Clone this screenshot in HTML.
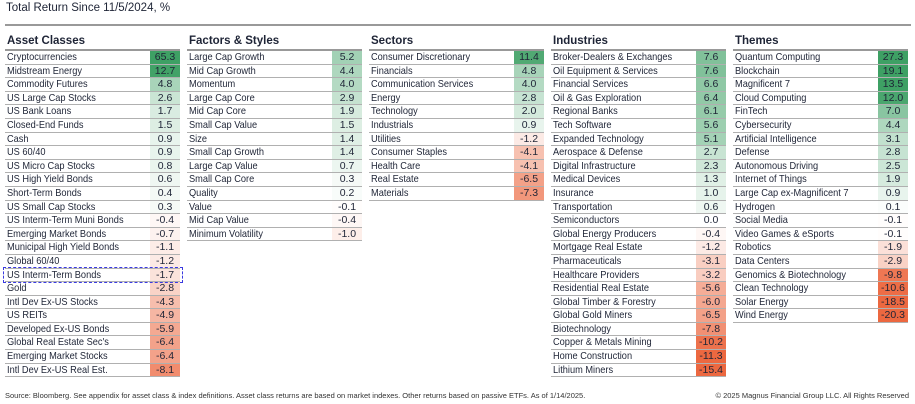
<!DOCTYPE html>
<html><head><meta charset="utf-8">
<style>
body{margin:0;width:915px;height:404px;background:#fff;font-family:"Liberation Sans",Arial,sans-serif;color:#1e2436;position:relative;overflow:hidden}
.title{position:absolute;left:6px;top:2px;font-size:11.5px}
.hr{position:absolute;left:5px;top:24px;width:906px;height:2px;background:#999}
.tb{position:absolute;top:34px;width:175px}
.h{font-weight:bold;font-size:11.5px;height:15px;line-height:15px;padding-left:2px;border-bottom:2px solid #999}
.r{position:relative;height:12.6px;border-bottom:1px solid #b0b0b0;font-size:10.5px;line-height:13px}
.r .n{position:absolute;left:2px;top:0;white-space:nowrap;transform:scaleX(.88);transform-origin:left}
.r .v{position:absolute;right:0;top:0;width:30px;height:12.6px;text-align:center}
.src{position:absolute;left:5px;top:391px;font-size:7.5px;color:#333}
.cp{position:absolute;right:6px;top:391px;font-size:7.5px;color:#333}
.dash{position:absolute;left:3px;top:267px;width:180px;height:16px;border:1.5px dashed #3a3ae0;box-sizing:border-box}
</style></head><body>
<div class="title">Total Return Since 11/5/2024, %</div>
<div class="hr"></div>
<div id="c"></div>
<div class="dash"></div>
<div class="src">Source: Bloomberg. See appendix for asset class &amp; index definitions. Asset class returns are based on market indexes. Other returns based on passive ETFs. As of 1/14/2025.</div>
<div class="cp">© 2025 Magnus Financial Group LLC. All Rights Reserved</div>
<script>
var T=[
["Asset Classes",5,[["Cryptocurrencies",65.3],["Midstream Energy",12.7],["Commodity Futures",4.8],["US Large Cap Stocks",2.6],["US Bank Loans",1.7],["Closed-End Funds",1.5],["Cash",0.9],["US 60/40",0.9],["US Micro Cap Stocks",0.8],["US High Yield Bonds",0.6],["Short-Term Bonds",0.4],["US Small Cap Stocks",0.3],["US Interm-Term Muni Bonds",-0.4],["Emerging Market Bonds",-0.7],["Municipal High Yield Bonds",-1.1],["Global 60/40",-1.2],["US Interm-Term Bonds",-1.7],["Gold",-2.8],["Intl Dev Ex-US Stocks",-4.3],["US REITs",-4.9],["Developed Ex-US Bonds",-5.9],["Global Real Estate Sec's",-6.4],["Emerging Market Stocks",-6.4],["Intl Dev Ex-US Real Est.",-8.1]]],
["Factors & Styles",187,[["Large Cap Growth",5.2],["Mid Cap Growth",4.4],["Momentum",4.0],["Large Cap Core",2.9],["Mid Cap Core",1.9],["Small Cap Value",1.5],["Size",1.4],["Small Cap Growth",1.4],["Large Cap Value",0.7],["Small Cap Core",0.3],["Quality",0.2],["Value",-0.1],["Mid Cap Value",-0.4],["Minimum Volatility",-1.0]]],
["Sectors",369,[["Consumer Discretionary",11.4],["Financials",4.8],["Communication Services",4.0],["Energy",2.8],["Technology",2.0],["Industrials",0.9],["Utilities",-1.2],["Consumer Staples",-4.1],["Health Care",-4.1],["Real Estate",-6.5],["Materials",-7.3]]],
["Industries",551,[["Broker-Dealers & Exchanges",7.6],["Oil Equipment & Services",7.6],["Financial Services",6.6],["Oil & Gas Exploration",6.4],["Regional Banks",6.1],["Tech Software",5.6],["Expanded Technology",5.1],["Aerospace & Defense",2.7],["Digital Infrastructure",2.3],["Medical Devices",1.3],["Insurance",1.0],["Transportation",0.6],["Semiconductors",0.0],["Global Energy Producers",-0.4],["Mortgage Real Estate",-1.2],["Pharmaceuticals",-3.1],["Healthcare Providers",-3.2],["Residential Real Estate",-5.6],["Global Timber & Forestry",-6.0],["Global Gold Miners",-6.5],["Biotechnology",-7.8],["Copper & Metals Mining",-10.2],["Home Construction",-11.3],["Lithium Miners",-15.4]]],
["Themes",733,[["Quantum Computing",27.3],["Blockchain",19.1],["Magnificent 7",13.5],["Cloud Computing",12.0],["FinTech",7.0],["Cybersecurity",4.4],["Artificial Intelligence",3.1],["Defense",2.8],["Autonomous Driving",2.5],["Internet of Things",1.9],["Large Cap ex-Magnificent 7",0.9],["Hydrogen",0.1],["Social Media",-0.1],["Video Games & eSports",-0.1],["Robotics",-1.9],["Data Centers",-2.9],["Genomics & Biotechnology",-9.8],["Clean Technology",-10.6],["Solar Energy",-18.5],["Wind Energy",-20.3]]]];
function col(v){var t,c;if(v>=0){t=Math.pow(Math.min(1,v/13),0.8);c=[62,160,100]}else{t=Math.pow(Math.min(1,-v/11),0.9);c=[236,104,64]}
return "rgb("+[0,1,2].map(function(i){return Math.round(255+(c[i]-255)*t)}).join(",")+")";}
var h="";T.forEach(function(t){h+='<div class="tb" style="left:'+t[1]+'px"><div class="h">'+t[0].replace("&","&amp;")+'</div>';
t[2].forEach(function(r){h+='<div class="r"><span class="n">'+r[0].replace("&","&amp;")+'</span><span class="v" style="background:'+col(r[1])+'">'+r[1].toFixed(1)+'</span></div>';});h+='</div>';});
document.getElementById("c").innerHTML=h;
</script>
</body></html>
